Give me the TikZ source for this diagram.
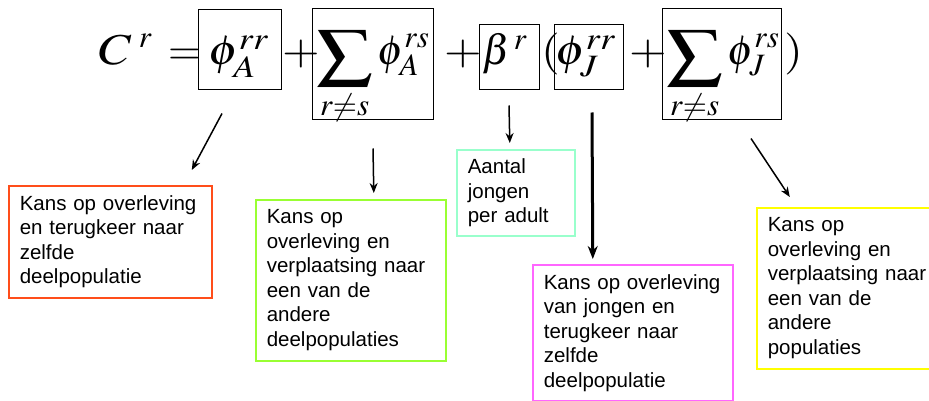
\documentclass[tikz,border=0pt]{standalone}
\usepackage{mathptmx}
\usepackage[no-math]{fontspec}
\setmainfont{Liberation Sans}
\usepackage{amsmath}
\usepackage{xcolor}
\usetikzlibrary{calc, arrows.meta, positioning}

\definecolor{kansred}{RGB}{255,77,26}
\definecolor{kansgreen}{RGB}{153,255,51}
\definecolor{kansaqua}{RGB}{153,255,204}
\definecolor{kanspink}{RGB}{255,102,255}
\definecolor{kansyellow}{RGB}{255,255,0}

% slightly wider formula pieces, as on the slide
\newcommand{\breed}[1]{\scalebox{1.15}[1]{#1}}
\newcommand{\groteSom}{\mathop{\raisebox{-5pt}{\scalebox{1.32}[1.08]{$\displaystyle\sum$}}}\limits}

\begin{document}
\begin{tikzpicture}[x=1pt, y=-1pt,
		term/.style={draw=black, line width=1pt, rectangle, inner sep=0pt},
		formula/.style={inner sep=0pt, anchor=base west, font=\fontsize{42}{46}\selectfont},
		uitleg/.style={rectangle, line width=1.6pt, anchor=north west, align=left, inner xsep=11pt, inner ysep=0pt, font=\fontsize{20.5}{24.5}\selectfont},
		pijl/.style={line width=1.5pt, -{Stealth[length=10pt, width=8pt]}}
		]
		\useasboundingbox (0,0) rectangle (929,401);
		
		% boxes round the terms
		\node [term, minimum width=83pt, minimum height=80pt](bA) at (239.5,50) {};
		\node [term, minimum width=121pt, minimum height=111pt](sA) at (372.5,64.5) {};
		\node [term, minimum width=60pt, minimum height=65pt](bt) at (509,57.5) {};
		\node [term, minimum width=69pt, minimum height=65pt](bJ) at (588.5,57.5) {};
		\node [term, minimum width=119pt, minimum height=111pt](sJ) at (721.5,64.5) {};
		
		% the formula
		\node [formula](C) at (99,65) {$\scalebox{1.22}[1.05]{$C$}^{\;r}$};
		\node [formula](eq) at (168,65) {$=$};
		\node [formula](fA) at (208,65) {\breed{$\phi_A^{rr}$}};
		\node [formula](p1) at (282,65) {\breed{$+$}};
		\node [formula](gA) at (316,65) {$\displaystyle\groteSom_{r\neq s}\phi_A^{rs}$};
		\node [formula](p2) at (444,65) {\breed{$+$}};
		\node [formula](be) at (482,65) {$\beta^{\,r}$};
		\node [formula](lp) at (541,65) {\breed{$($}};
		\node [formula](fJ) at (555,65) {\breed{$\phi_J^{rr}$}};
		\node [formula](p3) at (629,65) {\breed{$+$}};
		\node [formula](gJ) at (666,65) {$\displaystyle\groteSom_{r\neq s}\phi_J^{rs}$};
		\node [formula](rp) at (784,65) {\breed{$)$}};
		
		% explanations
		\node [uitleg, draw=kansred, text width=181pt, minimum height=112pt](kA) at (8,185) {Kans op overleving\\en terugkeer naar\\zelfde\\deelpopulatie};
		\node [uitleg, draw=kansgreen, text width=168pt, minimum height=161pt](kB) at (255,199) {Kans op\\overleving en\\verplaatsing naar\\een van de\\andere\\deelpopulaties};
		\node [uitleg, draw=kansaqua, text width=96pt, minimum height=86pt](kC) at (456,149) {Aantal\\jongen\\per adult};
		\node [uitleg, draw=kanspink, text width=178pt, minimum height=136pt](kD) at (532,264) {Kans op overleving\\van jongen en\\terugkeer naar\\zelfde\\deelpopulatie};
		\node [uitleg, draw=kansyellow, text width=178pt, minimum height=161pt](kE) at (756,207) {Kans op\\overleving en\\verplaatsing naar\\een van de\\andere\\populaties};
		
		\draw[pijl] ([shift={(-17.5,23)}]bA.south) -- ([shift={(81.5,-15)}]kA.north);
		\draw[pijl] ([shift={(0.5,28)}]sA.south) -- ([shift={(23,-6)}]kB.north);
		\draw[pijl] ([shift={(0,15)}]bt.south) -- ([shift={(-6,-6)}]kC.north);
		\draw[pijl, line width=3pt, -{Stealth[length=13pt, width=10pt]}] ([shift={(3.5,22)}]bJ.south) -- ([shift={(-40,-5)}]kD.north);
		\draw[pijl] ([shift={(29.5,18)}]sJ.south) -- ([shift={(-67,-10)}]kE.north);
		
	\end{tikzpicture}
\end{document}
